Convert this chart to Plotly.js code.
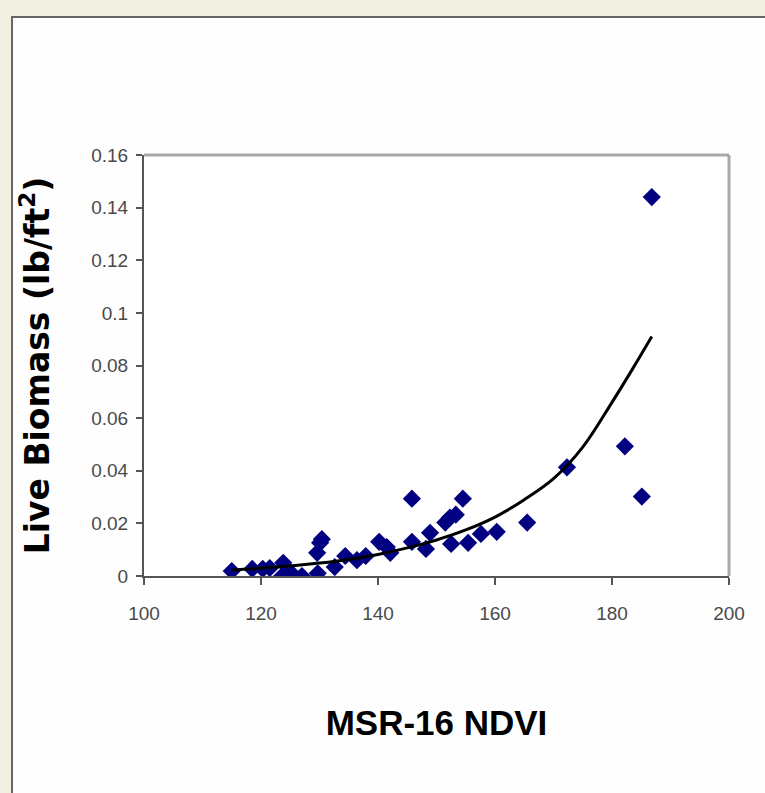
<!DOCTYPE html>
<html>
<head>
<meta charset="utf-8">
<script src="https://cdn.plot.ly/plotly-3.0.1.min.js"></script>
<style>
  html, body { margin: 0; padding: 0; width: 765px; height: 793px; overflow: hidden; background: #f1f0e2; }
  #frame { position: absolute; left: 11px; top: 16px; width: 760px; height: 790px;
           background: #fefefe; border-left: 2px solid #666; border-top: 2px solid #666; }
  #chart { position: absolute; left: 0; top: 0; width: 765px; height: 793px; }
</style>
</head>
<body>
<div id="frame"></div>
<div id="chart"></div>
<script>
// Observed data: MSR-16 NDVI vs Live Biomass (lb/ft^2)
const ndvi = [115.0, 118.5, 120.3, 121.5, 123.8, 123.6, 125.0, 127.0, 129.6, 130.1,
              130.4, 129.7, 132.6, 134.4, 136.4, 137.9, 140.2, 141.5, 142.1, 145.8,
              145.8, 148.2, 148.9, 151.5, 152.3, 153.3, 152.5, 154.5, 155.4, 157.6,
              160.3, 165.5, 172.3, 182.2, 185.1, 186.8];
const biomass = [0.0019, 0.0027, 0.0027, 0.0030, 0.0050, 0.0000, 0.0015, 0.0000, 0.0088, 0.0126,
                 0.0140, 0.0010, 0.0034, 0.0076, 0.0060, 0.0076, 0.0130, 0.0110, 0.0088, 0.0294,
                 0.0130, 0.0103, 0.0164, 0.0203, 0.0222, 0.0233, 0.0122, 0.0294, 0.0126, 0.0160,
                 0.0168, 0.0203, 0.0413, 0.0493, 0.0302, 0.1440];

// Exponential trendline
const trendX = [115, 120, 125, 130, 135, 140, 145, 150, 155, 160, 165, 170, 175, 180, 183.6, 186.8];
const trendY = [0.0023, 0.0030, 0.0038, 0.0049, 0.0063, 0.0082, 0.0107, 0.0137, 0.0175, 0.0224,
                0.0290, 0.0370, 0.0490, 0.0660, 0.0790, 0.0910];

const xTicks = [100, 120, 140, 160, 180, 200];
const yTicks = [0, 0.02, 0.04, 0.06, 0.08, 0.1, 0.12, 0.14, 0.16];

const sans = "'Liberation Sans', Arial, sans-serif";

const traces = [
  {
    x: ndvi, y: biomass, type: 'scatter', mode: 'markers', name: 'Live Biomass',
    marker: { symbol: 'diamond', size: 14, color: '#000080', line: { width: 0 } },
    showlegend: false
  },
  {
    x: trendX, y: trendY, type: 'scatter', mode: 'lines', name: 'Expon. trend',
    line: { color: '#000000', width: 3, shape: 'spline' },
    showlegend: false
  }
];

const layout = {
  width: 765, height: 793,
  margin: { l: 144, r: 36, t: 155, b: 217 },
  paper_bgcolor: 'rgba(0,0,0,0)',
  plot_bgcolor: '#ffffff',
  showlegend: false,
  xaxis: {
    range: [100, 200], tickvals: xTicks, ticktext: xTicks.map(String),
    showgrid: false, zeroline: false,
    showline: true, linecolor: '#555555', linewidth: 2,
    ticks: 'outside', ticklen: 7, tickwidth: 2, tickcolor: '#555555',
    ticklabelstandoff: 12,
    tickfont: { family: sans, size: 19, color: '#4a4a4a' },
    title: { text: '<b>MSR-16 NDVI</b>', standoff: 88,
             font: { family: sans, size: 35, color: '#000000' } }
  },
  yaxis: {
    range: [0, 0.16], tickvals: yTicks, ticktext: yTicks.map(String),
    showgrid: false, zeroline: false,
    showline: true, linecolor: '#555555', linewidth: 2,
    ticks: 'outside', ticklen: 6, tickwidth: 2, tickcolor: '#555555',
    ticklabelstandoff: 4,
    tickfont: { family: sans, size: 19, color: '#4a4a4a' },
    title: { text: '<b>Live Biomass (lb/ft<sup>2</sup>)</b>', standoff: 32,
             font: { family: "'DejaVu Sans', 'Liberation Sans', Arial, sans-serif", size: 33, color: '#000000' } }
  },
  shapes: [
    { type: 'line', xref: 'paper', yref: 'paper', x0: 0, x1: 1, y0: 1, y1: 1,
      line: { color: '#a8a8a8', width: 3 } },
    { type: 'line', xref: 'paper', yref: 'paper', x0: 1, x1: 1, y0: 0, y1: 1,
      line: { color: '#a8a8a8', width: 3 } }
  ]
};

Plotly.newPlot('chart', traces, layout, { displayModeBar: false, staticPlot: true });
</script>
</body>
</html>
